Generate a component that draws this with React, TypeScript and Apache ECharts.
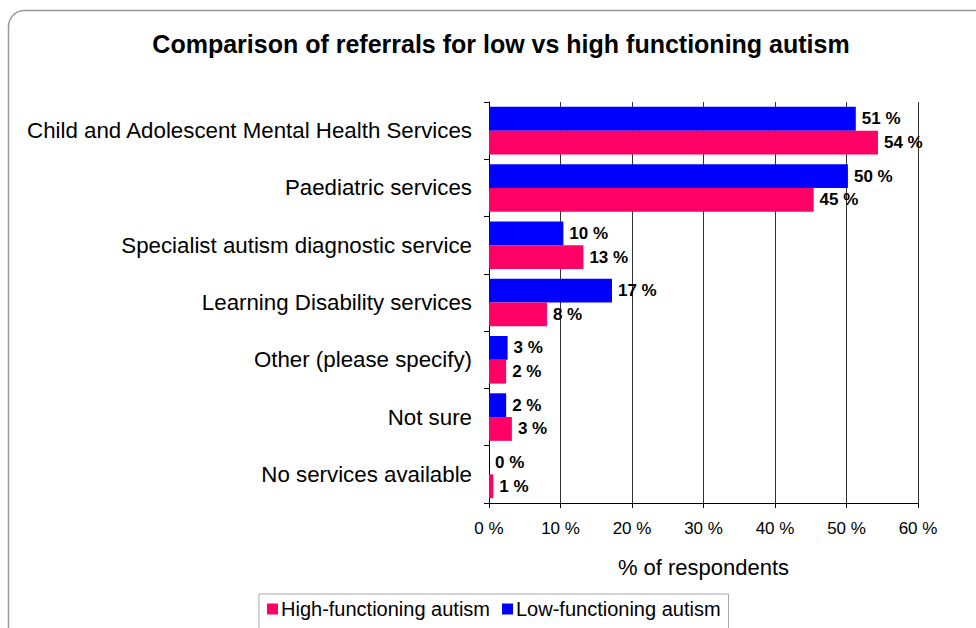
import React, { useEffect, useRef } from "react";
import * as echarts from "echarts";

const categories = [
  "Child and Adolescent Mental Health Services",
  "Paediatric services",
  "Specialist autism diagnostic service",
  "Learning Disability services",
  "Other (please specify)",
  "Not sure",
  "No services available",
];
const lowFunctioning = [51.3, 50.2, 10.4, 17.2, 2.6, 2.4, 0];
const highFunctioning = [54.4, 45.4, 13.2, 8.1, 2.4, 3.2, 0.6];
const xTicks = [0, 10, 20, 30, 40, 50, 60];

const FONT = "Arial, 'Liberation Sans', sans-serif";

export default function App() {
  const ref = useRef<HTMLDivElement>(null);
  useEffect(() => {
    if (!ref.current) return;
    const chart = echarts.init(ref.current, undefined, { renderer: "svg" });
    const label = {
      show: true,
      position: "right",
      distance: 6,
      color: "#000",
      fontWeight: "bold",
      fontSize: 17,
      fontFamily: FONT,
      formatter: (p: any) => `${Math.round(p.value)} %`,
    };
    chart.setOption({
      animation: false,
      backgroundColor: "#fff",
      title: {
        text: "Comparison of referrals for low vs high functioning autism",
        left: 496,
        textAlign: "center",
        top: 26,
        textStyle: { fontFamily: FONT, fontWeight: "bold", fontSize: 25, color: "#000" },
      },
      graphic: [
        {
          type: "rect",
          shape: { x: 8.5, y: 10.5, width: 1100, height: 800, r: 16 },
          style: { fill: "none", stroke: "#999", lineWidth: 1.5 },
          silent: true,
          z: -1,
        },
      ],
      legend: {
        data: ["High-functioning autism", "Low-functioning autism"],
        left: 259,
        top: 594,
        padding: [5, 8, 12, 8],
        itemWidth: 11,
        itemHeight: 11,
        itemGap: 12,
        icon: "rect",
        borderColor: "#aaa",
        borderWidth: 1,
        textStyle: { fontFamily: FONT, fontSize: 20, color: "#000", padding: [0, 0, 0, -2] },
      },
      grid: { left: 489, top: 102, right: 58, bottom: 125, containLabel: false },
      xAxis: {
        type: "value",
        min: 0,
        max: 60,
        interval: 10,
        name: "% of respondents",
        nameLocation: "middle",
        nameGap: 53,
        nameTextStyle: { fontFamily: FONT, fontSize: 22, color: "#000" },
        axisLine: { show: true, lineStyle: { color: "#000", width: 1 } },
        axisTick: { show: true, length: 5, lineStyle: { color: "#000" } },
        axisLabel: {
          fontFamily: FONT,
          fontSize: 17,
          color: "#000",
          margin: 17,
          formatter: (v: number) => (xTicks.includes(v) ? `${v} %` : ""),
        },
        splitLine: { show: true, lineStyle: { color: "#333", width: 1 } },
      },
      yAxis: {
        type: "category",
        data: categories,
        inverse: true,
        axisLine: { show: true, lineStyle: { color: "#000", width: 1 } },
        axisTick: { show: true, length: 5, lineStyle: { color: "#000" } },
        axisLabel: { fontFamily: FONT, fontSize: 22.3, color: "#000", margin: 17 },
      },
      series: [
        {
          name: "Low-functioning autism",
          type: "bar",
          data: lowFunctioning,
          itemStyle: { color: "#0000ff" },
          barGap: "0%",
          barCategoryGap: "17%",
          label,
        },
        {
          name: "High-functioning autism",
          type: "bar",
          data: highFunctioning,
          itemStyle: { color: "#ff0066" },
          barGap: "0%",
          barCategoryGap: "17%",
          label,
        },
      ],
    });
    return () => chart.dispose();
  }, []);
  return (
    <div
      ref={ref}
      style={{ position: "absolute", left: 0, top: 0, width: 976, height: 628 }}
    />
  );
}
